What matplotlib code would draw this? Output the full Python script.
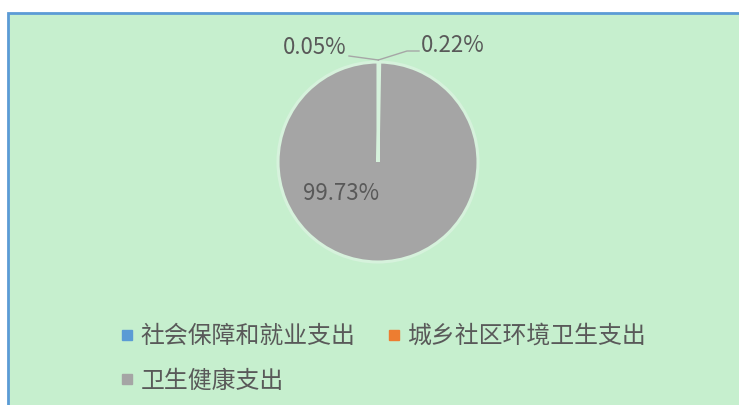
import matplotlib
matplotlib.use('Agg')
import matplotlib.pyplot as plt
from matplotlib.patches import Rectangle
from matplotlib.lines import Line2D
import numpy as np

plt.rcParams['font.family'] = ['Noto Sans CJK SC', 'DejaVu Sans']

# 数据
categories = ['社会保障和就业支出', '城乡社区环境卫生支出', '卫生健康支出']
values = [0.05, 0.22, 99.73]
labels = ['0.05%', '0.22%', '99.73%']
colors = ['#5B9BD5', '#ED7D31', '#A5A5A5']

bg = '#C6EFCE'
text_color = '#595959'

fig = plt.figure(figsize=(7.39, 4.05), dpi=100, facecolor='white')

# 图表区背景和边框
fig.patches.append(Rectangle((8 / 739, -0.2), 1.2, (405 - 13) / 405 + 0.2,
                             transform=fig.transFigure, facecolor=bg,
                             edgecolor='#5B9BD5', linewidth=2, zorder=-5))

# 饼图
ax = fig.add_axes([278 / 739, (405 - 262) / 405, 200 / 739, 200 / 405])
ax.set_facecolor('none')
wedges, _ = ax.pie(values, colors=colors, startangle=90, counterclock=False,
                   wedgeprops=dict(edgecolor='#D6F2DC', linewidth=2.2))
ax.set_xlim(-1, 1)
ax.set_ylim(-1, 1)
ax.set_aspect('equal')
ax.axis('off')

# 数据标签
line_kw = dict(color='#A6A6A6', linewidth=1)
top = np.deg2rad((wedges[0].theta1 + wedges[1].theta2) / 2)
px, py = np.cos(top) * 1.02, np.sin(top) * 1.02
ax.plot([-0.29, px], [1.06, py], clip_on=False, **line_kw)
ax.plot([px, 0.29, 0.41], [py, 1.11, 1.11], clip_on=False, **line_kw)
ax.text(-0.32, 1.15, labels[0], ha='right', va='center', fontsize=16, color=text_color)
ax.text(0.43, 1.17, labels[1], ha='left', va='center', fontsize=16, color=text_color)
ax.text(-0.37, -0.31, labels[2], ha='center', va='center', fontsize=16, color=text_color)

# 图例（按行排列）
handles = [Line2D([], [], marker='s', linestyle='none', markersize=6.5,
                  markerfacecolor=c, markeredgecolor=c) for c in colors]
order = [0, 2, 1]
leg = fig.legend([handles[i] for i in order], [categories[i] for i in order],
                 loc='upper left', bbox_to_anchor=(120 / 739, 1 - 325 / 405),
                 ncol=2, frameon=False, fontsize=17.2, handlelength=0.6,
                 handletextpad=0.25, columnspacing=1.33, labelspacing=0.9,
                 borderpad=0, borderaxespad=0)
for t in leg.get_texts():
    t.set_color(text_color)

fig.savefig('out.png', dpi=100, facecolor='white')
